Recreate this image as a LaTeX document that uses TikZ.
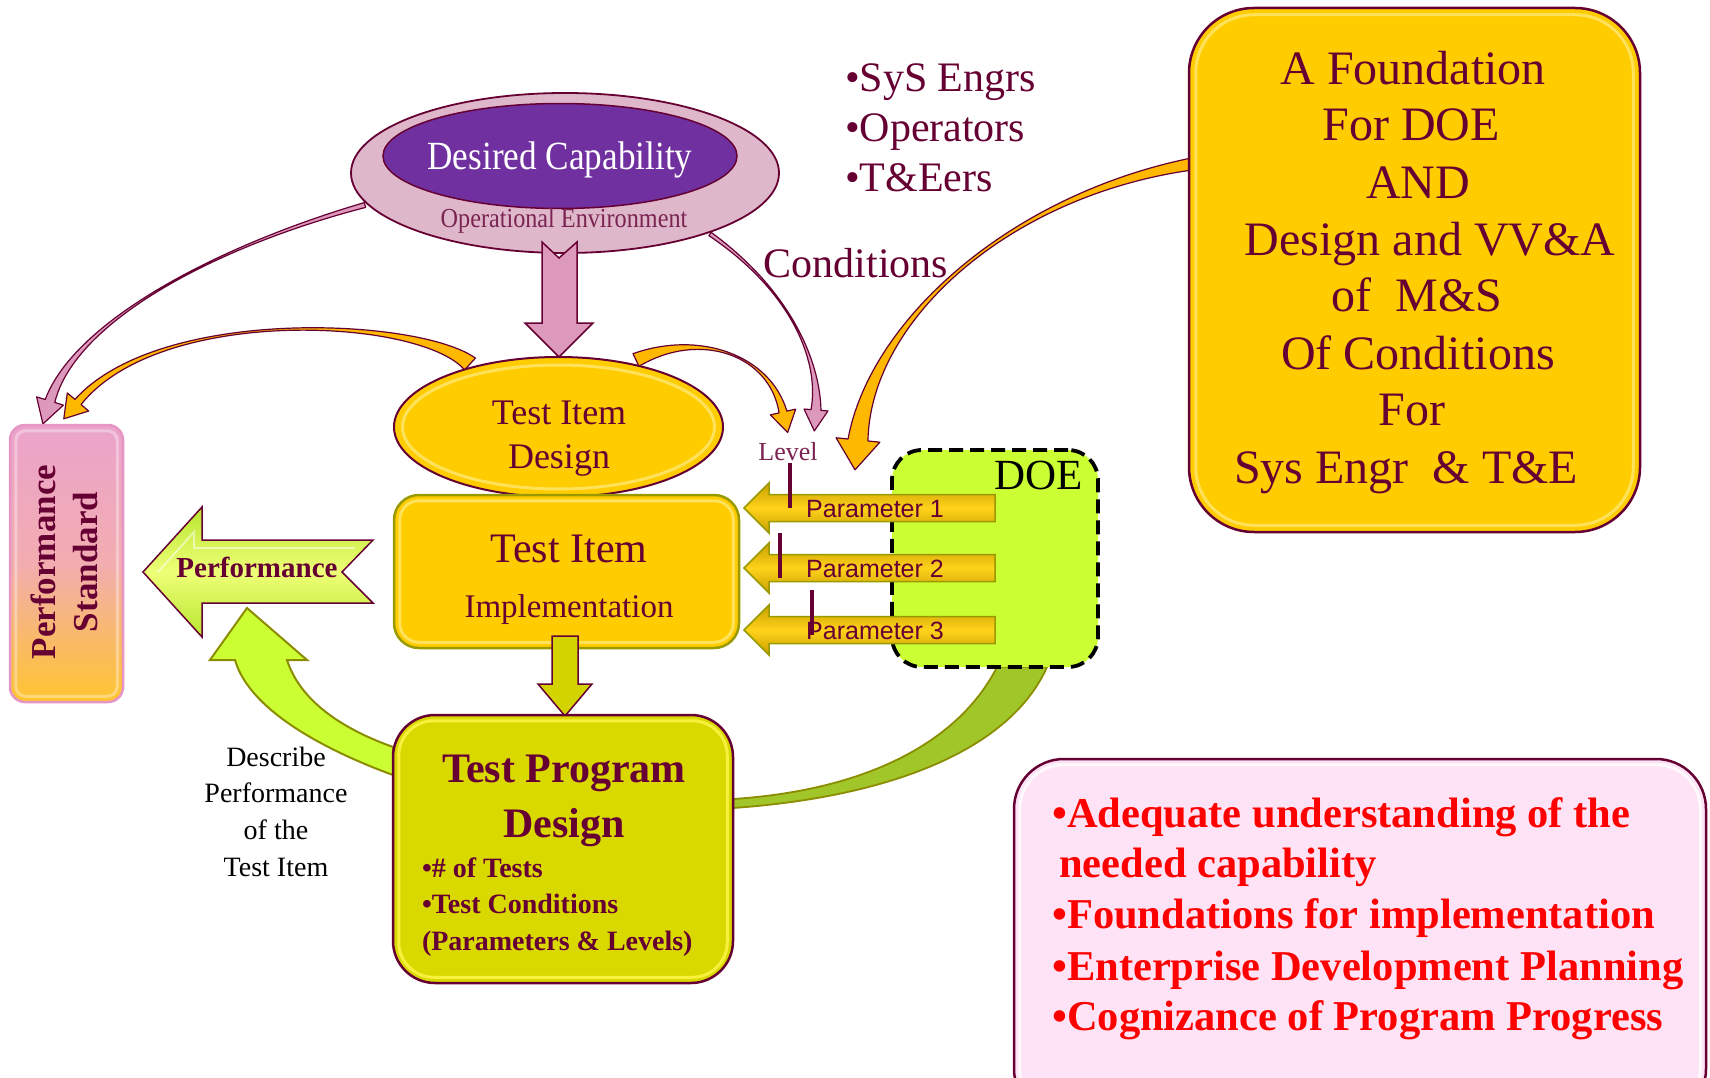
\documentclass[tikz,border=0pt]{standalone}
\usepackage{fontspec}
\setmainfont{Liberation Serif}
\newfontfamily\condfont[FakeStretch=0.88]{Liberation Serif}
\newfontfamily\arialfont{Liberation Sans}
\usetikzlibrary{shapes.geometric,calc}
\definecolor{mar}{HTML}{660033}
\definecolor{gold}{HTML}{FFCC00}
\definecolor{goldlt}{HTML}{FFE873}
\definecolor{pinkA}{HTML}{DD99BB}
\definecolor{pinkE}{HTML}{DFB7CA}
\definecolor{purp}{HTML}{7030A0}
\definecolor{orangeA}{HTML}{FFB800}
\definecolor{lime}{HTML}{CCFF33}
\definecolor{tpdc}{HTML}{D9D900}
\definecolor{olivebd}{HTML}{999900}
\definecolor{bandc}{HTML}{A0C62A}
\definecolor{grbd}{HTML}{8C8C00}
\definecolor{psbd}{HTML}{E695C5}
\definecolor{boxpink}{HTML}{FDE3F5}
\definecolor{oetext}{HTML}{7B2452}
\definecolor{perfA}{HTML}{B8E62E}
\definecolor{perfB}{HTML}{EEFF77}
\definecolor{psT}{HTML}{EBA3CB}
\definecolor{psB}{HTML}{FFC52E}
\definecolor{psM}{HTML}{F2ADB0}
\definecolor{parD}{HTML}{C8A000}
\definecolor{parL}{HTML}{FFD21A}
\newcommand\fsz[1]{\fontsize{#1}{#1}\selectfont}
% tapered curved arrow: S, C1, C2, E, w0, w1, head half width, head length, style
\newcommand\taper[9]{%
  \path ($(#1)!#5pt!90:(#2)$) coordinate (tA)
        ($(#1)!#5pt!-90:(#2)$) coordinate (tB)
        ($(#4)!#6pt!-90:(#3)$) coordinate (tC)
        ($(#4)!#6pt!90:(#3)$) coordinate (tD)
        ($(#4)!#7pt!-90:(#3)$) coordinate (tE)
        ($(#4)!#7pt!90:(#3)$) coordinate (tF)
        ($(#4)!-#8pt!(#3)$) coordinate (tT);
  \path[#9] (tA) .. controls (#2) and (#3) .. (tC) -- (tE) -- (tT) -- (tF) -- (tD) .. controls (#3) and (#2) .. (tB) -- cycle;
}
\begin{document}
\begin{tikzpicture}[x=1pt,y=-1pt,
  tx/.style={text=mar, inner sep=0, outer sep=0},
  pinkarrow/.style={fill=pinkA, draw=mar, line width=1.2, line join=round},
  orarrow/.style={fill=orangeA, draw=mar, line width=1.2, line join=round},
  hl/.style={draw=#1, line width=3, opacity=0.8},
  parr/.style={draw=olivebd, line width=1.5, top color=parD, bottom color=parD, middle color=parL, line join=miter},
]
\useasboundingbox (0,0) rectangle (1710,1078);
\fill[white] (0,0) rectangle (1710,1078);
\clip (0,0) rectangle (1710,1078);

% ---------- coordinates for curved connectors
\coordinate (aS) at (365,205); \coordinate (aC1) at (220,245); \coordinate (aC2) at (75,320); \coordinate (aE) at (50,401);
\coordinate (bS) at (710,234); \coordinate (bC1) at (790,290); \coordinate (bC2) at (820,360); \coordinate (bE) at (816,410);
\coordinate (dS) at (470,364); \coordinate (dC1) at (420,318); \coordinate (dC2) at (160,305); \coordinate (dE) at (78,402);
\coordinate (cS) at (636,360); \coordinate (cC1) at (700,330); \coordinate (cC2) at (770,355); \coordinate (cE) at (783,412);
\coordinate (eS) at (1192,164); \coordinate (eC1) at (1010,195); \coordinate (eC2) at (870,320); \coordinate (eE) at (858,440);

% thin curved arrows
\taper{aS}{aC1}{aC2}{aE}{2.5}{5}{14}{24}{pinkarrow}
\taper{bS}{bC1}{bC2}{bE}{2}{5}{12}{21}{pinkarrow}
\taper{dS}{dC1}{dC2}{dE}{8}{4}{14}{22}{orarrow}
\taper{cS}{cC1}{cC2}{cE}{7}{4}{13}{21}{orarrow}
\taper{eS}{eC1}{eC2}{eE}{6}{10}{22}{30}{orarrow}

% band DOE -> Test Program Design
\path[fill=bandc, draw=grbd, line width=1.8]
  (997,667) .. controls (960,740) and (870,790) .. (733,799) -- (733,808)
  .. controls (890,797) and (1010,750) .. (1047,667) -- cycle;

% green curved arrow Test Program Design -> Performance
\path[fill=lime, draw=grbd, line width=2, line join=miter]
  (393,775) .. controls (330,752) and (250,712) .. (235,660) -- (210,660) -- (247,608)
  -- (307,660) -- (287,660) .. controls (300,700) and (340,728) .. (393,747) -- cycle;

% Performance arrow
\path[draw=mar, line width=1.5, top color=perfA, bottom color=perfA, middle color=perfB]
  (143,572) -- (202,507) -- (202,540) -- (373,540) -- (342,572) -- (373,603) -- (202,603) -- (202,637) -- cycle;
\path[draw=white, opacity=0.5, line width=2]
  (158,572) -- (194,532) -- (194,548) -- (355,548);
\node[tx, anchor=base, font=\bfseries\fsz{29}] (perf) at (257,577) {Performance};

% Performance Standard
\node[draw=psbd, line width=2.5, rounded corners=15, minimum width=113, minimum height=277,
      inner sep=0, top color=psT, bottom color=psB, middle color=psM] (ps) at (66.5,563.5) {};
\draw[hl=white, opacity=0.35, rounded corners=10] ($(ps.north west)+(7,7)$) rectangle ($(ps.south east)+(-7,-7)$);
\node[tx, rotate=90, align=center, font=\bfseries\fontsize{35}{42}\selectfont] (pst) at (64,562) {Performance\\Standard};

% Operational environment / desired capability
\node[ellipse, draw=mar, line width=1.8, fill=pinkE, minimum width=428, minimum height=160, inner sep=0] (oe) at (565,173) {};
\node[ellipse, draw=mar, line width=1.5, fill=purp, minimum width=354, minimum height=105, inner sep=0] (dc) at (560,156) {};
\node[anchor=base, text=white, font=\condfont\fsz{40}, inner sep=0] (dct) at (560,170) {Desired Capability};
\node[anchor=base, text=oetext, font=\condfont\fsz{27.5}, inner sep=0] (oet) at (564,228) {Operational Environment};

% pink block arrow down
\path[fill=pinkA, draw=mar, line width=1.5, line join=miter]
  (542,242) -- (559,258) -- (577,242) -- (577,323) -- (593,323) -- (559,357) -- (525,323) -- (542,323) -- cycle;

% Test Item Design
\node[ellipse, draw=mar, line width=2, fill=gold, minimum width=329, minimum height=140, inner sep=0] (tid) at (558.5,427) {};
\draw[hl=goldlt] (tid.center) ellipse [x radius=156, y radius=62];
\node[tx, anchor=base, font=\fsz{36}] (tid1) at (559,424) {Test Item};
\node[tx, anchor=base, font=\fsz{36}] (tid2) at (559,468) {Design};

% Test Item Implementation
\node[draw=olivebd, line width=2.5, fill=gold, rounded corners=25, minimum width=345, minimum height=153, inner sep=0] (tii) at (566.5,571.5) {};
\draw[hl=goldlt, rounded corners=19] ($(tii.north west)+(7,7)$) rectangle ($(tii.south east)+(-7,-7)$);
\node[tx, anchor=base, font=\fsz{42}] (tii1) at (569,562) {Test Item};
\node[tx, anchor=base, font=\fsz{33}] (tii2) at (569,617) {Implementation};

% olive block arrow down
\path[fill=tpdc!90!olivebd, draw=mar, line width=1.5, line join=miter]
  (552,636) -- (578,636) -- (578,684) -- (592,684) -- (565,716) -- (538,684) -- (552,684) -- cycle;

% Test Program Design
\node[draw=mar, line width=2.5, fill=tpdc, rounded corners=42, minimum width=340, minimum height=268, inner sep=0] (tpd) at (563,849) {};
\draw[hl=yellow!70!white, rounded corners=35] ($(tpd.north west)+(7,7)$) rectangle ($(tpd.south east)+(-7,-7)$);
\node[tx, anchor=base, font=\bfseries\fsz{42}] (tpd1) at (564,782) {Test Program};
\node[tx, anchor=base, font=\bfseries\fsz{42}] (tpd2) at (564,837) {Design};
\node[tx, anchor=base west, font=\bfseries\fsz{28}] (tpd3) at (422,877) {•\# of Tests};
\node[tx, anchor=base west, font=\bfseries\fsz{28}] (tpd4) at (422,913) {•Test Conditions};
\node[tx, anchor=base west, font=\bfseries\fsz{28}] (tpd5) at (422,950) {(Parameters \& Levels)};

% Describe performance
\node[anchor=base, inner sep=0, font=\fsz{28}] (ds1) at (276,766) {Describe};
\node[anchor=base, inner sep=0, font=\fsz{28}] (ds2) at (276,802) {Performance};
\node[anchor=base, inner sep=0, font=\fsz{28}] (ds3) at (276,839) {of the};
\node[anchor=base, inner sep=0, font=\fsz{28}] (ds4) at (276,876) {Test Item};

% DOE
\node[draw=black, dashed, dash pattern=on 14pt off 7pt, line width=3.8, fill=lime, rounded corners=30,
      minimum width=206, minimum height=217, inner sep=0] (doe) at (995,558.5) {};
\node[anchor=base, inner sep=0, font=\fsz{43}] (doet) at (1039,489) {DOE};

% parameter arrows
\foreach \yy/\lab in {508/1,568/2,630/3}{
  \path[parr] (744,\yy) -- (769,\yy-25) -- (769,\yy-13.5) -- (995,\yy-13.5) -- (995,\yy+13.5)
     -- (769,\yy+13.5) -- (769,\yy+25) -- cycle;
  \node[tx, anchor=base, font=\arialfont\fsz{25}] (p\lab) at (875,\yy+9) {Parameter \lab};
}
% level marks
\draw[mar, line width=4.5] (790,463) -- (790,508);
\draw[mar, line width=4.5] (780,533) -- (780,578);
\draw[mar, line width=4.5] (812,590) -- (812,635);
\node[anchor=base, inner sep=0, text=oetext, font=\fsz{26}] (lvl) at (788,460) {Level};

% stakeholders and conditions
\node[tx, anchor=base west, font=\fsz{42}] (s1) at (845,92) {•SyS Engrs};
\node[tx, anchor=base west, font=\fsz{42}] (s2) at (845,142) {•Operators};
\node[tx, anchor=base west, font=\fsz{42}] (s3) at (845,192) {•T\&Eers};
\node[tx, anchor=base, font=\fsz{42}] (cond) at (856,277) {Conditions};

% Foundation box
\node[draw=mar, line width=2.5, fill=gold, rounded corners=65, minimum width=451, minimum height=524, inner sep=0] (fb) at (1414.5,270) {};
\draw[hl=goldlt, rounded corners=58] ($(fb.north west)+(8,8)$) rectangle ($(fb.south east)+(-8,-8)$);
\node[tx, anchor=base, font=\fsz{48}] (f1) at (1413,85) {A Foundation};
\node[tx, anchor=base, font=\fsz{48}] (f2) at (1411,141) {For DOE};
\node[tx, anchor=base, font=\fsz{48}] (f3) at (1418,199) {AND};
\node[tx, anchor=base, font=\fsz{48}] (f4) at (1430,255) {Design and VV\&A};
\node[tx, anchor=base, font=\fsz{48}] (f5) at (1417,311) {of \ M\&S};
\node[tx, anchor=base, font=\fsz{48}] (f6) at (1418,369) {Of Conditions};
\node[tx, anchor=base, font=\fsz{48}] (f7) at (1412,425) {For};
\node[tx, anchor=base, font=\fsz{48}] (f8) at (1406,483) {Sys Engr \ \& T\&E};

% bottom-right box
\node[draw=mar, line width=2.5, fill=boxpink, rounded corners=50, minimum width=692, minimum height=360, inner sep=0] (bb) at (1360,939) {};
\draw[hl=white, rounded corners=44] ($(bb.north west)+(7,7)$) rectangle ($(bb.south east)+(-7,-7)$);
\node[anchor=base west, inner sep=0, text=red, font=\bfseries\fsz{42.5}] (r1) at (1052,827) {•Adequate understanding of the};
\node[anchor=base west, inner sep=0, text=red, font=\bfseries\fsz{42.5}] (r2) at (1059,877) {needed capability};
\node[anchor=base west, inner sep=0, text=red, font=\bfseries\fsz{42.5}] (r3) at (1052,928) {•Foundations for implementation};
\node[anchor=base west, inner sep=0, text=red, font=\bfseries\fsz{42.5}] (r4) at (1052,980) {•Enterprise Development Planning};
\node[anchor=base west, inner sep=0, text=red, font=\bfseries\fsz{42.5}] (r5) at (1052,1030) {•Cognizance of Program Progress};
\end{tikzpicture}
\end{document}
